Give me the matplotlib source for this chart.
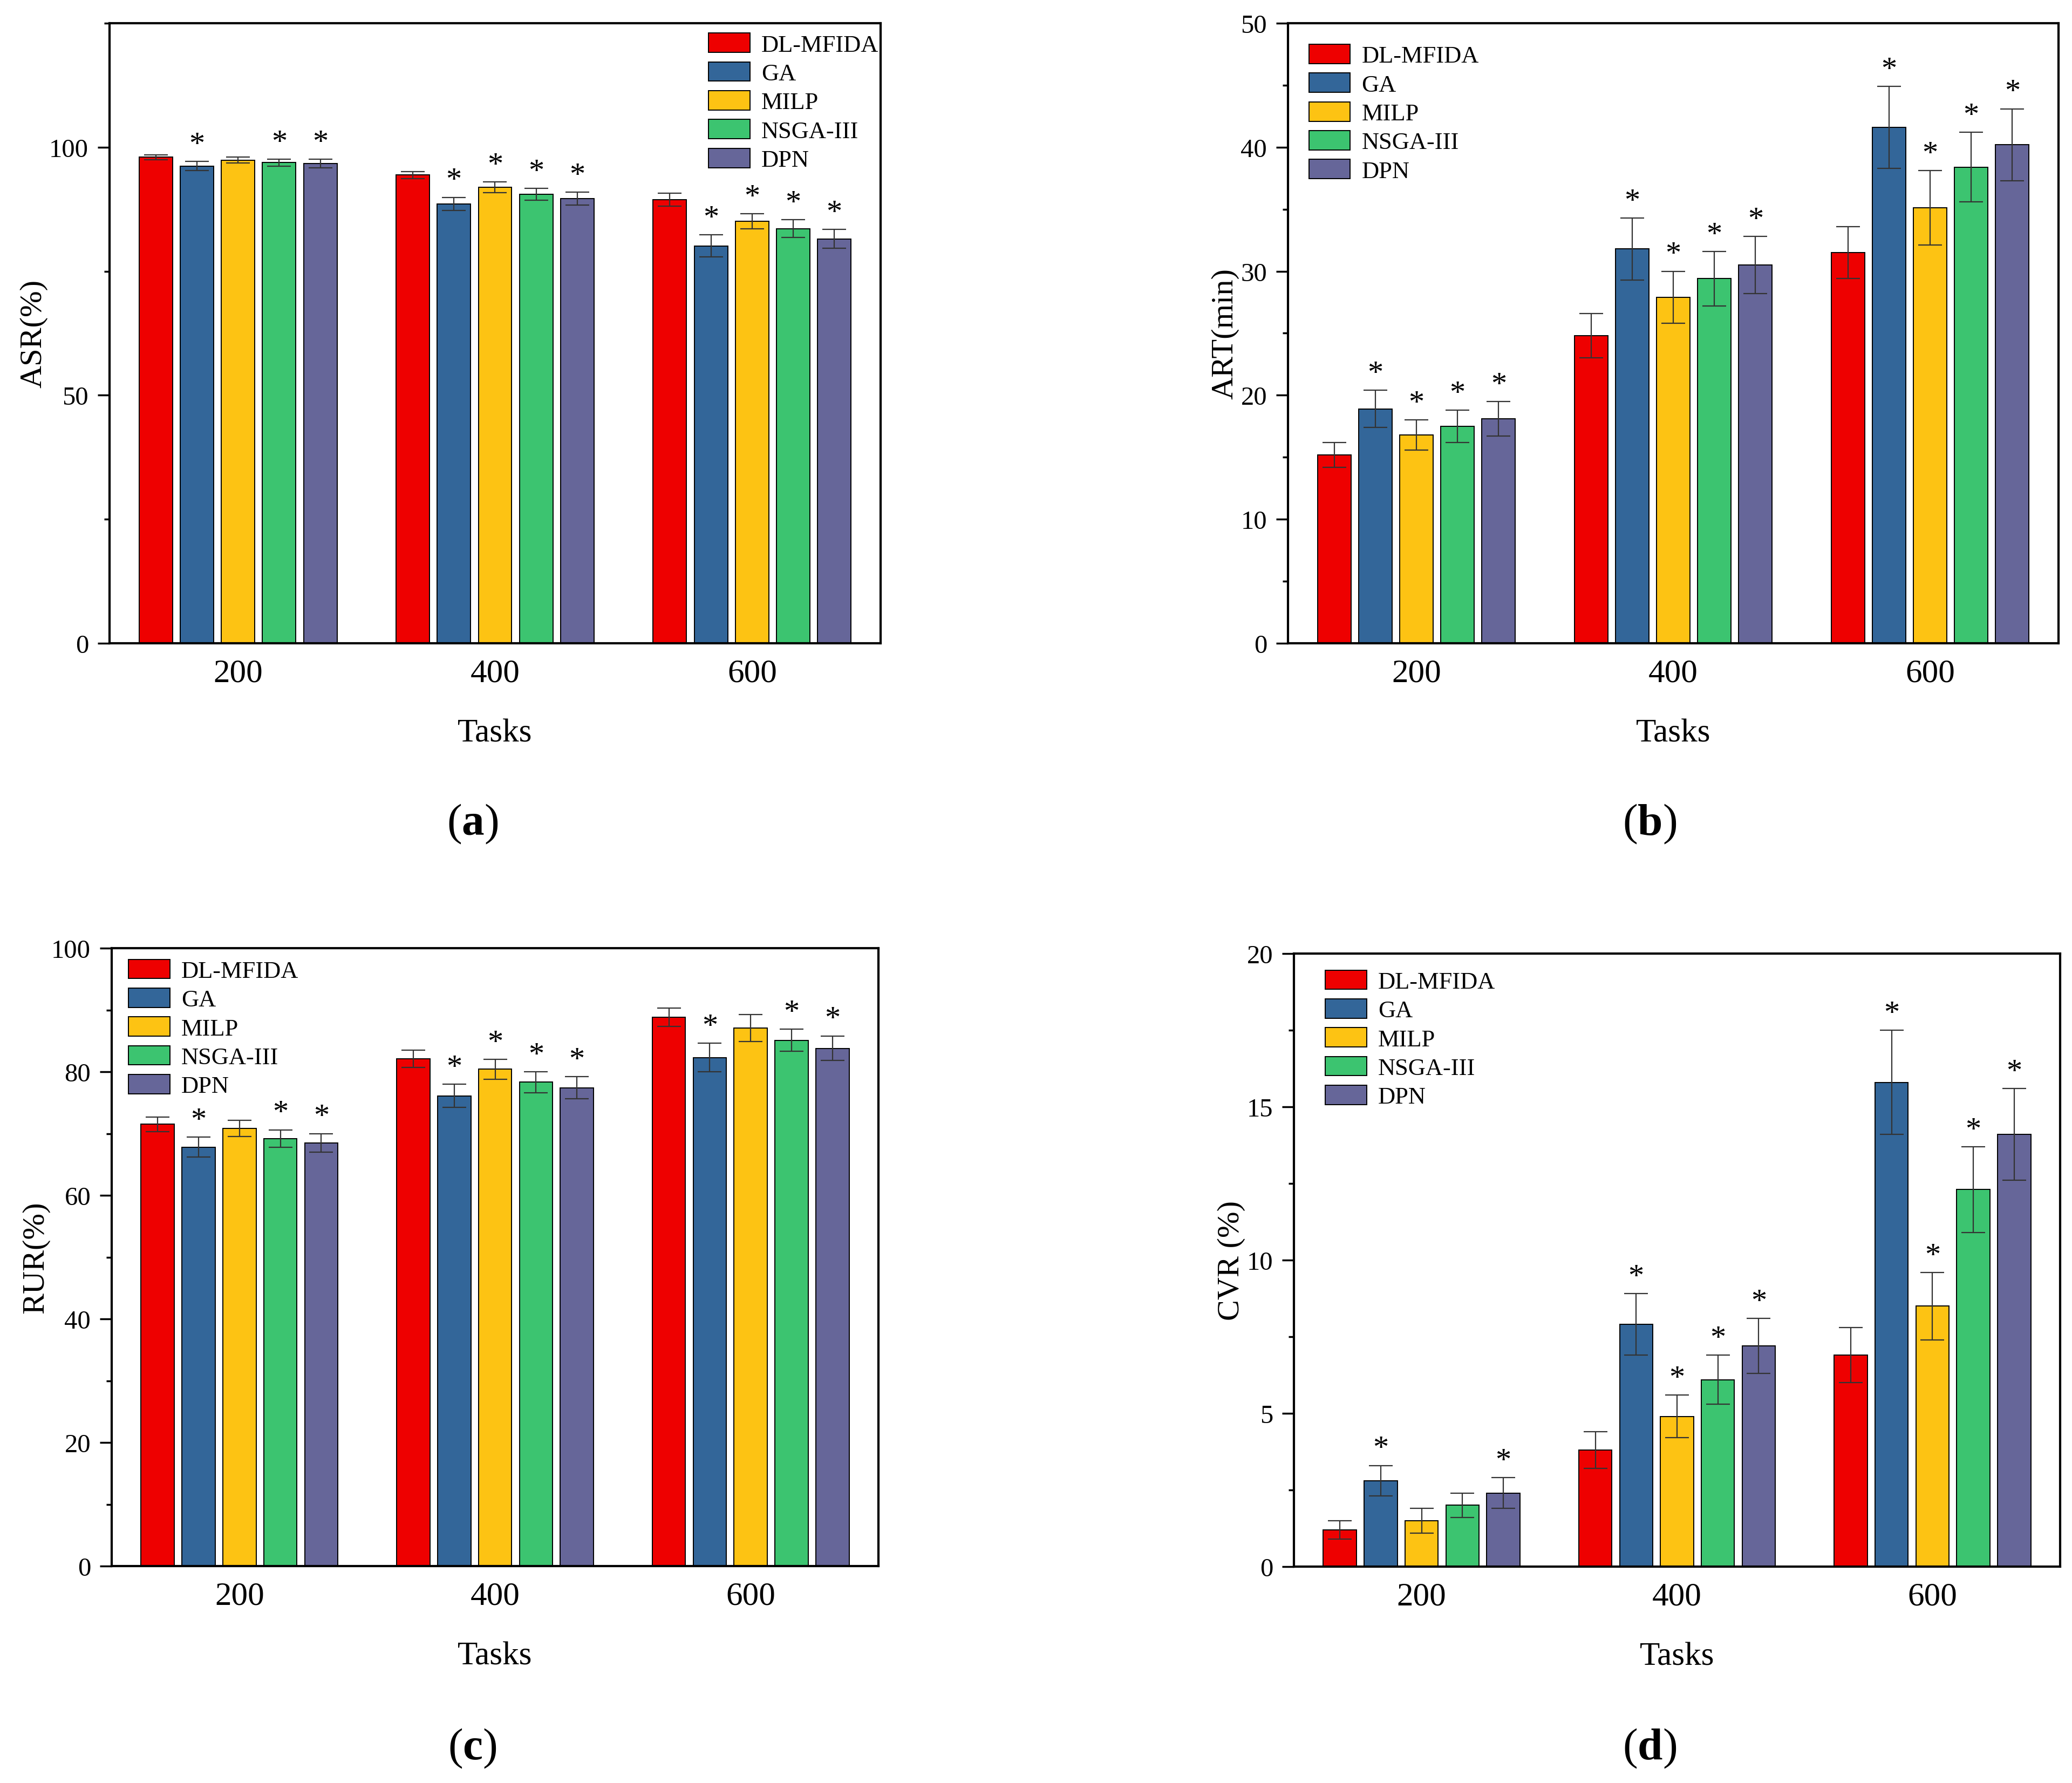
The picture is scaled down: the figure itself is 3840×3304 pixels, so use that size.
import numpy as np
import matplotlib
matplotlib.use('Agg')
import matplotlib.pyplot as plt
from matplotlib.ticker import MultipleLocator

plt.rcParams['font.family'] = ['Liberation Serif', 'DejaVu Serif']
plt.rcParams['mathtext.fontset'] = 'custom'
plt.rcParams['mathtext.rm'] = 'Liberation Serif'
plt.rcParams['mathtext.bf'] = 'Liberation Serif:bold'

# ---- data (rows = methods, cols = task counts) ----
tasks = ['200', '400', '600']
methods = ['DL-MFIDA', 'GA', 'MILP', 'NSGA-III', 'DPN']
colors = ['#EE0000', '#336699', '#FDC313', '#3CC470', '#666699']

asr_mean = [[98.0, 94.4, 89.4],
            [96.2, 88.6, 80.1],
            [97.4, 91.9, 85.1],
            [96.9, 90.5, 83.6],
            [96.7, 89.6, 81.5]]
asr_err = [[0.5, 0.7, 1.3],
           [0.9, 1.3, 2.2],
           [0.6, 1.1, 1.5],
           [0.7, 1.2, 1.8],
           [0.9, 1.3, 1.9]]
asr_star = [[0, 0, 0], [1, 1, 1], [0, 1, 1], [1, 1, 1], [1, 1, 1]]

art_mean = [[15.2, 24.8, 31.5],
            [18.9, 31.8, 41.6],
            [16.8, 27.9, 35.1],
            [17.5, 29.4, 38.4],
            [18.1, 30.5, 40.2]]
art_err = [[1.0, 1.8, 2.1],
           [1.5, 2.5, 3.3],
           [1.2, 2.1, 3.0],
           [1.3, 2.2, 2.8],
           [1.4, 2.3, 2.9]]
art_star = [[0, 0, 0], [1, 1, 1], [1, 1, 1], [1, 1, 1], [1, 1, 1]]

rur_mean = [[71.5, 82.1, 88.8],
            [67.8, 76.1, 82.3],
            [70.8, 80.4, 87.1],
            [69.2, 78.3, 85.1],
            [68.5, 77.4, 83.8]]
rur_err = [[1.2, 1.4, 1.5],
           [1.6, 1.9, 2.3],
           [1.3, 1.6, 2.2],
           [1.4, 1.7, 1.8],
           [1.5, 1.8, 2.0]]
rur_star = [[0, 0, 0], [1, 1, 1], [0, 1, 0], [1, 1, 1], [1, 1, 1]]

cvr_mean = [[1.2, 3.8, 6.9],
            [2.8, 7.9, 15.8],
            [1.5, 4.9, 8.5],
            [2.0, 6.1, 12.3],
            [2.4, 7.2, 14.1]]
cvr_err = [[0.3, 0.6, 0.9],
           [0.5, 1.0, 1.7],
           [0.4, 0.7, 1.1],
           [0.4, 0.8, 1.4],
           [0.5, 0.9, 1.5]]
cvr_star = [[0, 0, 0], [1, 1, 1], [0, 1, 1], [0, 1, 1], [1, 1, 1]]

pitch = 0.16
width = 0.13


def panel(ax, mean, err, star, ylabel, ymax, major, minor, leg_xy):
    x = np.arange(len(tasks))
    for i, m in enumerate(methods):
        xs = x + (i - 2) * pitch
        ax.bar(xs, mean[i], width, color=colors[i], edgecolor='black',
               linewidth=1.4, label=m, zorder=2)
        ax.errorbar(xs, mean[i], yerr=err[i], fmt='none', ecolor='#333333',
                    elinewidth=1.6, capsize=16, capthick=1.6, zorder=3)
        for j in range(len(tasks)):
            if star[i][j]:
                ax.annotate('*', (xs[j], mean[i][j] + err[i][j]),
                            xytext=(0, 3), textcoords='offset points',
                            ha='center', va='bottom', fontsize=42)
    ax.set_xlim(-0.5, 2.5)
    ax.set_ylim(0, ymax)
    ax.set_xticks(x)
    ax.set_xticklabels(tasks)
    ax.yaxis.set_major_locator(MultipleLocator(major))
    ax.yaxis.set_minor_locator(MultipleLocator(minor))
    ax.tick_params(axis='x', length=0, pad=20, labelsize=44)
    ax.tick_params(axis='y', which='major', direction='out', length=16,
                   width=2.5, pad=12, labelsize=35)
    ax.tick_params(axis='y', which='minor', direction='out', length=7,
                   width=2.5)
    for s in ax.spines.values():
        s.set_linewidth(3)
    ax.set_xlabel('Tasks', fontsize=44, labelpad=40)
    ax.set_ylabel(ylabel, fontsize=42, labelpad=2)
    ax.legend(loc='upper left', bbox_to_anchor=leg_xy, frameon=False,
              fontsize=32, handlelength=1.73, handleheight=0.86,
              handletextpad=0.47, labelspacing=0.25, borderpad=0,
              borderaxespad=0)


fig = plt.figure(figsize=(38.4, 33.05), dpi=100)
ax_a = fig.add_axes([0.05286, 0.63903, 0.37214, 0.34766])
ax_b = fig.add_axes([0.62161, 0.63903, 0.37188, 0.34766])
ax_c = fig.add_axes([0.05391, 0.12163, 0.37005, 0.34644])
ax_d = fig.add_axes([0.62448, 0.12133, 0.36979, 0.34372])

panel(ax_a, asr_mean, asr_err, asr_star, 'ASR(%)', 125, 50, 25, (0.777, 0.984))
panel(ax_b, art_mean, art_err, art_star, 'ART(min)', 50, 10, 5, (0.027, 0.966))
panel(ax_c, rur_mean, rur_err, rur_star, 'RUR(%)', 100, 20, 10, (0.022, 0.982))
panel(ax_d, cvr_mean, cvr_err, cvr_star, 'CVR (%)', 20, 5, 2.5, (0.041, 0.973))

for lab, xx, yy in [('a', 0.228, 0.538), ('b', 0.796, 0.538),
                    ('c', 0.228, 0.0197), ('d', 0.796, 0.0197)]:
    fig.text(xx, yy, '($\\mathbf{' + lab + '}$)', fontsize=60,
             ha='center', va='center')

fig.savefig('out.png', dpi=100)
